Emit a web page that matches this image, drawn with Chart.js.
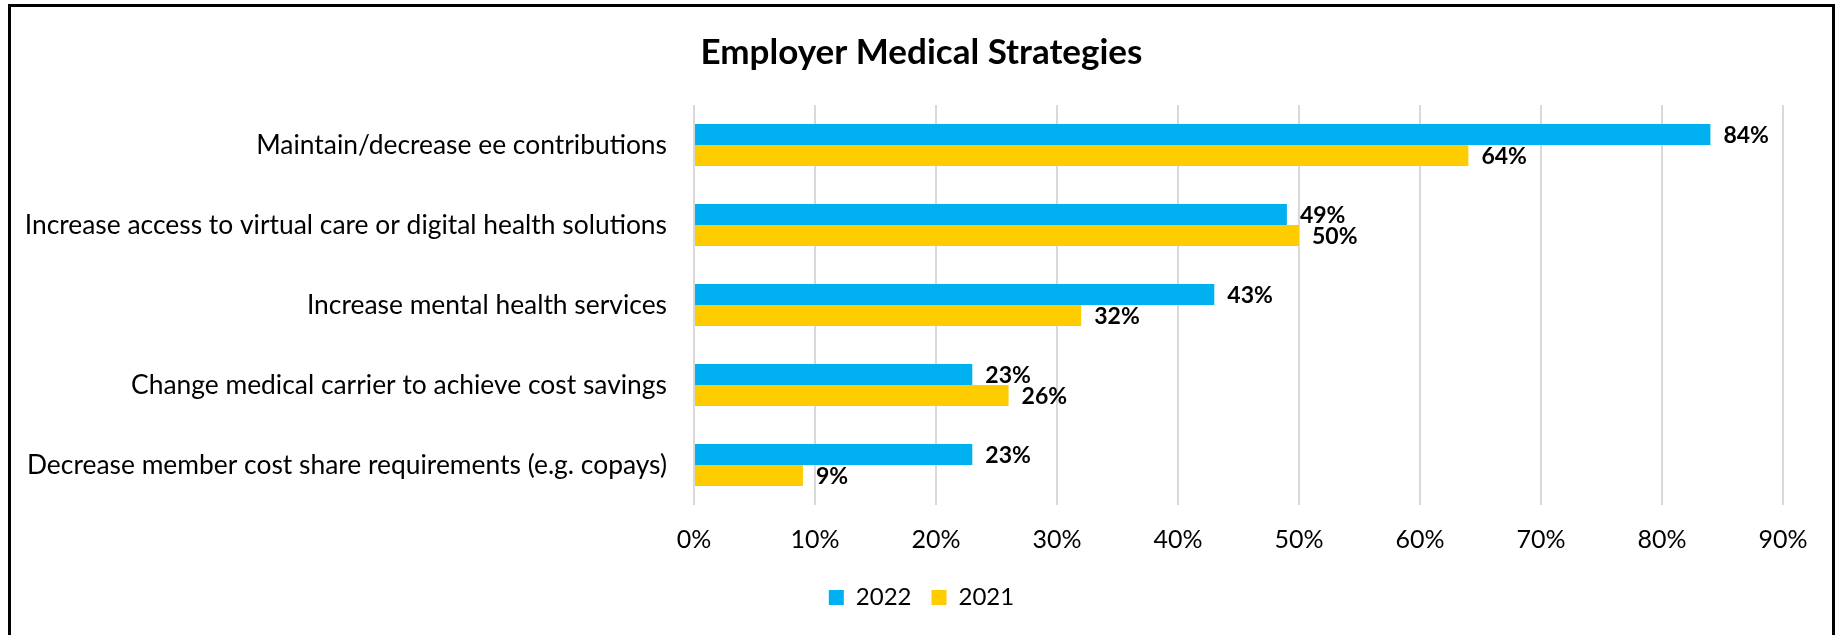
<!DOCTYPE html>
<html lang="en">
<head>
<meta charset="UTF-8" />
<title>Employer Medical Strategies</title>
<style>
  html,body{margin:0;padding:0;background:#fff;overflow:hidden;}
  body{width:1837px;height:635px;position:relative;}
  .frame{position:absolute;left:8px;top:4px;width:1821px;height:640px;border:3px solid #000;background:#fff;}
  .frame canvas{display:block;}
</style>
<script src="https://cdn.jsdelivr.net/npm/chart.js@4.4.0/dist/chart.umd.min.js"></script>
</head>
<body>
<div class="frame"><canvas id="chart" width="1821" height="628"></canvas></div>

<script>
// ===== data =====
const strategies = [
  "Maintain/decrease ee contributions",
  "Increase access to virtual care or digital health solutions",
  "Increase mental health services",
  "Change medical carrier to achieve cost savings",
  "Decrease member cost share requirements (e.g. copays)"
];
const seriesNames = ["2022", "2021"];
const values2022 = [84, 49, 43, 23, 23];
const values2021 = [64, 50, 32, 26, 9];
const xTicks = [0, 10, 20, 30, 40, 50, 60, 70, 80, 90];

// ===== look =====
const FONT = "Lato, 'Open Sans', sans-serif";
const BLUE = "#00B0F0";
const GOLD = "#FFCC00";

// value labels at bar ends
const valueLabels = {
  id: 'valueLabels',
  afterDatasetsDraw(chart){
    const ctx = chart.ctx;
    ctx.save();
    ctx.font = "bold 23px " + FONT;
    ctx.fillStyle = "#000";
    ctx.textBaseline = "middle";
    ctx.textAlign = "left";
    chart.data.datasets.forEach((ds, i) => {
      chart.getDatasetMeta(i).data.forEach((bar, j) => {
        ctx.fillText(ds.data[j] + "%", bar.x + 13, bar.y + 1);
      });
    });
    ctx.restore();
  }
};

new Chart(document.getElementById('chart'), {
  type: 'bar',
  data: {
    labels: strategies,
    datasets: [
      {label: seriesNames[0], data: values2022, backgroundColor: BLUE},
      {label: seriesNames[1], data: values2021, backgroundColor: GOLD}
    ]
  },
  options: {
    indexAxis: 'y',
    responsive: false,
    animation: false,
    layout: {padding: {top: 0, right: 0, bottom: 15.5, left: 0}},
    datasets: {bar: {barPercentage: 1, categoryPercentage: 0.525}},
    plugins: {
      title: {
        display: true,
        text: 'Employer Medical Strategies',
        color: '#000',
        font: {family: FONT, size: 35, weight: 'bold'},
        padding: {top: 24.5, bottom: 31.5}
      },
      legend: {
        position: 'bottom',
        labels: {
          color: '#000',
          font: {family: FONT, size: 24},
          boxWidth: 15,
          boxHeight: 15,
          padding: 20
        }
      },
      tooltip: {enabled: false}
    },
    scales: {
      x: {
        min: 0,
        max: 90,
        afterBuildTicks: s => { s.ticks = xTicks.map(v => ({value: v})); },
        ticks: {
          color: '#000',
          font: {family: FONT, size: 25},
          padding: 20,
          callback: v => v + '%'
        },
        grid: {color: '#d9d9d9', lineWidth: 2, drawTicks: false},
        border: {display: false},
        afterFit: s => { s.height = 60.5; }
      },
      y: {
        ticks: {
          color: '#000',
          font: {family: FONT, size: 26.4},
          padding: 27
        },
        grid: {display: false, drawTicks: false},
        border: {display: false},
        afterFit: s => { s.width = 683; }
      },
      // empty right margin so the title and legend stay centred in the frame
      spacer: {
        type: 'linear',
        position: 'right',
        ticks: {display: false},
        grid: {display: false, drawTicks: false},
        border: {display: false},
        afterFit: s => { s.width = 49; }
      }
    }
  },
  plugins: [valueLabels]
});
</script>
</body>
</html>
